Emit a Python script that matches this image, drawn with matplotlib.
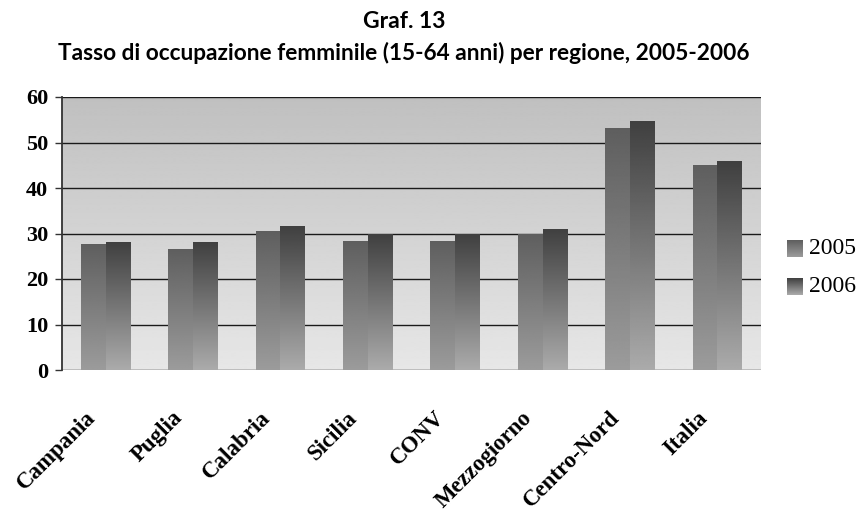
import numpy as np
import matplotlib
matplotlib.use("Agg")
import matplotlib.pyplot as plt
from matplotlib.transforms import ScaledTranslation

categories = ["Campania", "Puglia", "Calabria", "Sicilia", "CONV",
              "Mezzogiorno", "Centro-Nord", "Italia"]
values_2005 = [27.8, 26.7, 30.6, 28.4, 28.4, 30.0, 53.1, 45.1]
values_2006 = [28.2, 28.2, 31.7, 29.9, 29.9, 31.0, 54.7, 45.9]
series_labels = ["2005", "2006"]
y_ticks = [0, 10, 20, 30, 40, 50, 60]
title_line1 = "Graf. 13"
title_line2 = "Tasso di occupazione femminile (15-64 anni) per regione, 2005-2006"

W, H, DPI = 862, 514, 100
fig = plt.figure(figsize=(W / DPI, H / DPI), dpi=DPI)
ax = fig.add_axes([62 / W, 1 - 370 / H, (761 - 62) / W, (370 - 97) / H])

serif = ["Liberation Serif", "DejaVu Serif"]

x = np.arange(len(categories))
bw = 0.283
ymax = 60
xlim = (-0.5, len(categories) - 0.5)

# background gradient (darker at top, row 0 drawn at top)
bg = np.linspace(0.752, 0.905, 256).reshape(-1, 1)
ax.imshow(bg, extent=[xlim[0], xlim[1], 0, ymax], origin="upper", cmap="gray",
          vmin=0, vmax=1, aspect="auto", zorder=0, interpolation="bilinear")

# gridlines
for t in y_ticks:
    ax.axhline(t, color="#1a1a1a", lw=1.0, zorder=1)

def gradient_bars(xpos, vals, top, bottom):
    bars = ax.bar(xpos, vals, width=bw, color="none", edgecolor="none", zorder=2)
    grad = np.linspace(top, bottom, 256).reshape(-1, 1)
    for p in bars.patches:
        x0, y0 = p.get_x(), p.get_y()
        w, h = p.get_width(), p.get_height()
        im = ax.imshow(grad, extent=[x0, x0 + w, y0, y0 + h], origin="upper",
                       cmap="gray", vmin=0, vmax=1, aspect="auto", zorder=3,
                       interpolation="bilinear")
        im.set_clip_path(p)
    return bars

gradient_bars(x - bw / 2, values_2005, 0.37, 0.61)
gradient_bars(x + bw / 2, values_2006, 0.25, 0.67)

ax.set_xlim(*xlim)
ax.set_ylim(0, ymax)
ax.set_aspect("auto")

for s in ["top", "right", "bottom"]:
    ax.spines[s].set_visible(False)
ax.spines["left"].set_color("#333333")
ax.spines["left"].set_linewidth(1.3)
ax.spines["left"].set_zorder(5)

ax.set_yticks(y_ticks)
ax.set_yticklabels([str(t) for t in y_ticks], fontfamily=serif,
                   fontweight="bold", fontsize=16)
ax.tick_params(axis="y", direction="out", length=5, width=1.0,
               color="#333333", pad=5)

ax.set_xticks(x)
ax.set_xticklabels(categories, fontfamily=serif, fontweight="bold",
                   fontsize=16.5, rotation=45, ha="right")
ax.tick_params(axis="x", length=0, pad=27)
off = ScaledTranslation(-6 / DPI, 0, fig.dpi_scale_trans)
for lab in ax.get_xticklabels():
    lab.set_transform(lab.get_transform() + off)

# titles
fig.text(404 / W, 1 - 22 / H, title_line1, ha="center", va="center",
         fontfamily=["Lato", "DejaVu Sans"], fontweight="bold", fontsize=16.5)
fig.text(404 / W, 1 - 53 / H, title_line2, ha="center", va="center",
         fontfamily=["Lato", "DejaVu Sans"], fontweight="bold", fontsize=16.3)

# legend (manual, gradient swatches)
legend_specs = [(series_labels[0], 240, (0.37, 0.61)),
                (series_labels[1], 278, (0.25, 0.67))]
for lab, ytop, (tc, bc) in legend_specs:
    lax = fig.add_axes([787 / W, 1 - (ytop + 17) / H, 16 / W, 17 / H])
    lax.imshow(np.linspace(tc, bc, 64).reshape(-1, 1), cmap="gray", vmin=0,
               vmax=1, aspect="auto", interpolation="bilinear")
    lax.set_axis_off()
    fig.text(809 / W, 1 - (ytop + 9) / H, lab, ha="left", va="center",
             fontfamily=serif, fontsize=17)

fig.savefig("out.png", dpi=DPI)
